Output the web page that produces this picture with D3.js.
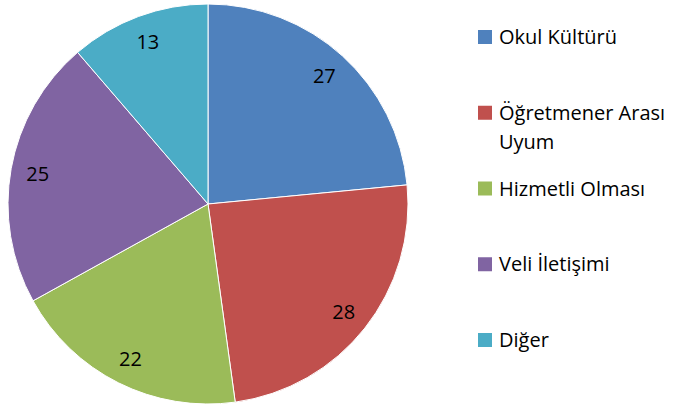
<!DOCTYPE html>
<html lang="tr">
<head>
<meta charset="utf-8">
<style>
  body { margin: 0; background: #fff; }
  text { font-family: "Open Sans", "Noto Sans", sans-serif; fill: #000; }
</style>
<script src="https://cdn.jsdelivr.net/npm/d3@7"></script>
</head>
<body>
<script>
var categories = ["Okul Kültürü", "Öğretmener Arası Uyum", "Hizmetli Olması", "Veli İletişimi", "Diğer"];
var values = [27, 28, 22, 25, 13];
var colors = ["#4F81BD", "#C0504D", "#9BBB59", "#8064A2", "#4BACC6"];
// legend lines (long label wraps)
var legendLines = [["Okul Kültürü"], ["Öğretmener Arası", "Uyum"], ["Hizmetli Olması"], ["Veli İletişimi"], ["Diğer"]];

var width = 673, height = 406;
var cx = 208, cy = 204, radius = 200;

var svg = d3.select("body").append("svg")
  .attr("width", width)
  .attr("height", height);

var data = categories.map(function(c, i) { return { name: c, value: values[i], color: colors[i] }; });

var pie = d3.pie().sort(null).value(function(d) { return d.value; });
var arc = d3.arc().innerRadius(0).outerRadius(radius);
var labelArc = d3.arc().innerRadius(radius * 0.865).outerRadius(radius * 0.865);

var g = svg.append("g").attr("transform", "translate(" + cx + "," + cy + ")");

var arcs = pie(data);

g.selectAll("path")
  .data(arcs)
  .enter().append("path")
  .attr("d", arc)
  .attr("fill", function(d) { return d.data.color; })
  .attr("stroke", "#fff")
  .attr("stroke-width", 1);

g.selectAll("text.lbl")
  .data(arcs)
  .enter().append("text")
  .attr("class", "lbl")
  .attr("transform", function(d) { return "translate(" + labelArc.centroid(d) + ")"; })
  .attr("text-anchor", "middle")
  .attr("dy", "0.36em")
  .style("font-size", "20px")
  .text(function(d) { return d.data.value; });

var legendY = d3.scalePoint().domain(categories).range([37, 340]);

var legend = svg.append("g").selectAll("g")
  .data(data)
  .enter().append("g")
  .attr("transform", function(d) { return "translate(478," + legendY(d.name) + ")"; });

legend.append("rect")
  .attr("x", 0)
  .attr("y", -7)
  .attr("width", 14)
  .attr("height", 14)
  .attr("fill", function(d) { return d.color; });

legend.append("text")
  .attr("x", 21)
  .attr("y", 0)
  .style("font-size", "20px")
  .each(function(d, i) {
    var t = d3.select(this);
    legendLines[i].forEach(function(l, j) {
      t.append("tspan")
        .attr("x", 21)
        .attr("dy", j === 0 ? "0.36em" : "1.45em")
        .text(l);
    });
  });
</script>
</body>
</html>
